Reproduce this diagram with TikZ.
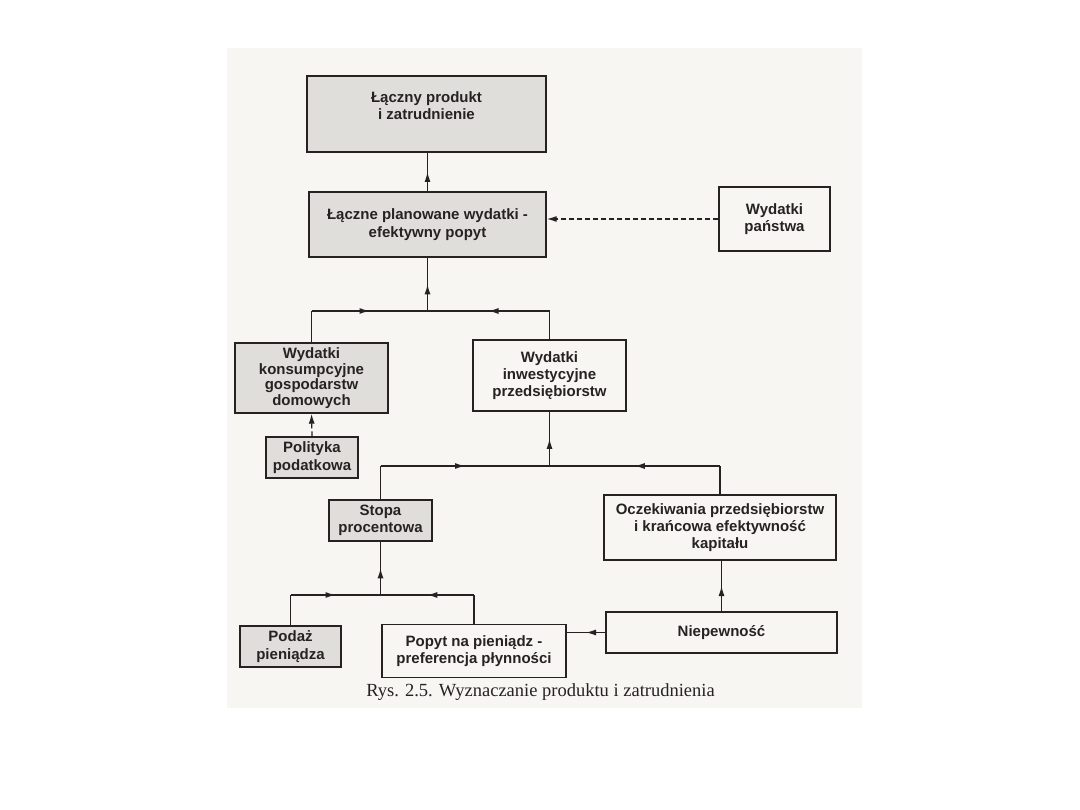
\documentclass[tikz,border=0pt]{standalone}
\usepackage{fontspec}
\setmainfont{Liberation Sans}
\newfontfamily\capfont{Liberation Serif}
\usetikzlibrary{arrows.meta,decorations.markings}
\definecolor{paper}{RGB}{247,246,243}
\definecolor{boxgray}{RGB}{224,222,219}
\definecolor{ink}{RGB}{38,34,34}
\tikzset{
  box/.style={draw=ink, line width=1.4pt, align=center, inner sep=0pt,
    font=\bfseries\fontsize{15}{17.3}\selectfont, text=ink},
  gbox/.style={box, fill=boxgray},
  wbox/.style={box, fill=paper},
  tight/.style={font=\bfseries\fontsize{15}{15.6}\selectfont},
  conn/.style={draw=ink, line width=1.25pt},
  midarrow/.style={conn, postaction={decorate},
    decoration={markings, mark=at position 0.5 with {\arrow{Latex[length=10pt,width=6pt]}}}},
  dasharrow/.style={conn, dash pattern=on 5pt off 3pt, -{Latex[length=10pt,width=6pt]}}
}
\begin{document}
\begin{tikzpicture}[x=1pt,y=-1pt]
\useasboundingbox (0,0) rectangle (1080,810);
\fill[white] (0,0) rectangle (1080,810);
\fill[paper] (227,48) rectangle (862,708);

% boxes
\node[gbox, minimum width=239pt, minimum height=76pt] (A) at (426.5,114) {\raisebox{0pt}[\height][\dimexpr\depth+13pt\relax]{\begin{tabular}{@{}c@{}}Łączny produkt\\i zatrudnienie\end{tabular}}};
\node[gbox, minimum width=237pt, minimum height=65pt] (B) at (427.5,224.5) {Łączne planowane wydatki -\\efektywny popyt};
\node[wbox, minimum width=111pt, minimum height=64pt] (C) at (774.5,219) {Wydatki\\państwa};
\node[gbox, tight, minimum width=153pt, minimum height=70pt] (D) at (311.5,378) {Wydatki\\konsumpcyjne\\gospodarstw\\domowych};
\node[wbox, minimum width=153pt, minimum height=71pt] (E) at (549.5,375.5) {Wydatki\\inwestycyjne\\przedsiębiorstw};
\node[gbox, minimum width=92pt, minimum height=41pt] (F) at (312,457.5) {Polityka\\podatkowa};
\node[gbox, minimum width=103pt, minimum height=41pt] (G) at (380.5,520.5) {Stopa\\procentowa};
\node[wbox, minimum width=232pt, minimum height=65pt] (H) at (720,527.5) {Oczekiwania przedsiębiorstw\\i krańcowa efektywność\\kapitału};
\node[gbox, minimum width=101pt, minimum height=41pt] (I) at (290.5,646.5) {Podaż\\pieniądza};
\node[wbox, minimum width=184pt, minimum height=53pt] (J) at (474,651) {Popyt na pieniądz -\\preferencja płynności};
\node[wbox, minimum width=231pt, minimum height=41pt] (K) at (721.5,632.5) {Niepewność};

% caption
\node[font=\capfont\fontsize{18.5}{21}\selectfont, text=ink, inner sep=0pt] (cap) at (540.5,692) {Rys. 2.5. Wyznaczanie produktu i zatrudnienia};

% junctions
\coordinate (j1) at (427.5,311);
\coordinate (j2) at (549.5,466);
\coordinate (j3) at (380.5,595);

% connectors
\draw[midarrow] (B.north) -- (B.north |- A.south);
\draw[dasharrow] (C.west) -- (C.west -| B.east);

\draw[conn] (D.north) -- (D.north |- j1);
\draw[midarrow] (D.north |- j1) -- (j1);
\draw[conn] (E.north) -- (E.north |- j1);
\draw[midarrow] (E.north |- j1) -- (j1);
\draw[midarrow] (j1) -- (B.south);

\draw[dasharrow] (F.north) -- (D.south);

\draw[conn] (G.north) -- (G.north |- j2);
\draw[midarrow] (G.north |- j2) -- (j2);
\draw[conn] (H.north) -- (H.north |- j2);
\draw[midarrow] (H.north |- j2) -- (j2);
\draw[midarrow] (j2) -- (E.south);

\draw[conn] (I.north) -- (I.north |- j3);
\draw[midarrow] (I.north |- j3) -- (j3);
\draw[conn] (J.north) -- (J.north |- j3);
\draw[midarrow] (J.north |- j3) -- (j3);
\draw[midarrow] (j3) -- (G.south);

\draw[midarrow] (K.north) -- (K.north |- H.south);
\draw[midarrow] (K.west) -- (K.west -| J.east);
\end{tikzpicture}
\end{document}
